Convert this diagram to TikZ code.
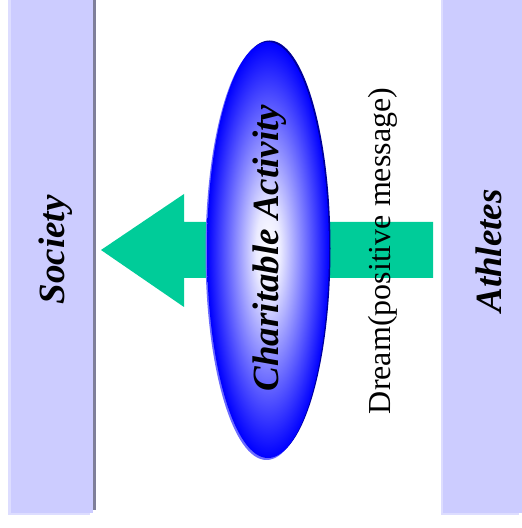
\documentclass[tikz,border=0pt]{standalone}
\usepackage{fontspec}
\setmainfont{Liberation Serif}
\usepackage{tikz}

\definecolor{barfill}{HTML}{CCCCFF}
\definecolor{barlight}{HTML}{DDDDFF}
\definecolor{bardark}{HTML}{7F7F99}
\definecolor{arrowgreen}{HTML}{00CC99}
\definecolor{ellrim}{HTML}{000099}
\definecolor{elllight}{HTML}{6B6BFF}

\pgfdeclareradialshading{ellshade}{\pgfpoint{0bp}{0bp}}{color(0bp)=(white); color(5bp)=(blue!8); color(25bp)=(blue); color(50bp)=(blue)}

\begin{document}
\begin{tikzpicture}[x=1pt, y=1pt,
    lbl/.style = {font=\fontsize{37}{40}\selectfont\bfseries\itshape, inner sep=0pt, rotate=90},
    msg/.style = {font=\fontsize{32}{36}\selectfont, inner sep=0pt, rotate=90}]
    \useasboundingbox (0,0) rectangle (522,528);

    % side bars
    \fill[bardark] (14,18) rectangle (96,528);
    \fill[barlight] (8,13) rectangle (90,528);
    \fill[barfill] (11,15) rectangle (93,528);
    \fill[barlight] (441,13) rectangle (519,528);
    \fill[barfill] (443,15) rectangle (524,528);

    % arrow
    \fill[arrowgreen] (101,278) -- (184,334) -- (184,306) -- (433,306)
        -- (433,250) -- (184,250) -- (184,221) -- cycle;

    % ellipse
    \fill[elllight] (266.5,276) ellipse [x radius=61, y radius=208];
    \fill[ellrim] (269.5,279.5) ellipse [x radius=61, y radius=208];
    \shade[shading=ellshade] (268,278) ellipse [x radius=61, y radius=208];

    \node[lbl] (society) at (56,278) {Society};
    \node[lbl] (athletes) at (489,277) {Athletes};
    \node[lbl] (charity) at (270,280) {Charitable Activity};
    \node[msg] (dream) at (383,277) {Dream(positive message)};
\end{tikzpicture}
\end{document}
